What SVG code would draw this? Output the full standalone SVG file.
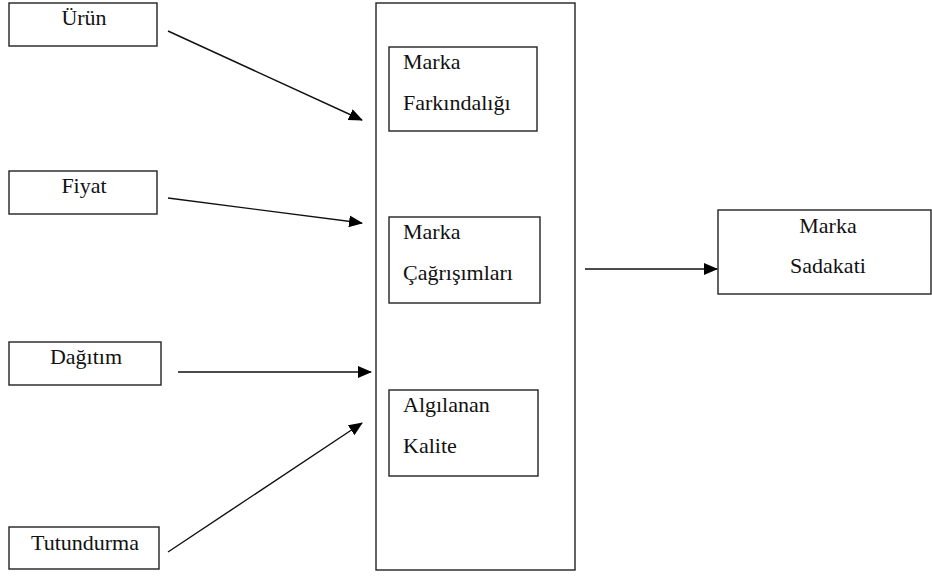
<svg xmlns="http://www.w3.org/2000/svg" width="932" height="576" viewBox="0 0 932 576">
<defs>
<marker id="ah" markerUnits="userSpaceOnUse" markerWidth="14" markerHeight="12" viewBox="0 0 14 12" refX="13" refY="6" orient="auto">
<path d="M0,0 L14,6 L0,12 Z" fill="#000"/>
</marker>
</defs>
<rect width="932" height="576" fill="#fff"/>
<g id="urun"><rect x="9" y="3" width="148" height="43" fill="#fff" stroke="#222" stroke-width="1.4"/><text style="font-family:'Liberation Serif',serif;font-size:22px" fill="#111" text-anchor="middle" x="84" y="25">&#220;r&#252;n</text></g>
<g id="fiyat"><rect x="9" y="171" width="148" height="43" fill="#fff" stroke="#222" stroke-width="1.4"/><text style="font-family:'Liberation Serif',serif;font-size:22px" fill="#111" text-anchor="middle" x="84" y="193">Fiyat</text></g>
<g id="dagitim"><rect x="9" y="342" width="152" height="43" fill="#fff" stroke="#222" stroke-width="1.4"/><text style="font-family:'Liberation Serif',serif;font-size:22px" fill="#111" text-anchor="middle" x="86" y="364">Da&#287;&#305;t&#305;m</text></g>
<g id="tutundurma"><rect x="9" y="527" width="150" height="42" fill="#fff" stroke="#222" stroke-width="1.4"/><text style="font-family:'Liberation Serif',serif;font-size:22px" fill="#111" text-anchor="middle" x="85" y="550">Tutundurma</text></g>
<g id="marka-degeri"><rect x="376" y="3" width="199" height="567" fill="#fff" stroke="#222" stroke-width="1.4"/></g>
<g id="farkindalik"><rect x="389" y="47" width="148" height="84" fill="#fff" stroke="#222" stroke-width="1.4"/><text style="font-family:'Liberation Serif',serif;font-size:22px" fill="#111" x="403" y="69">Marka</text><text style="font-family:'Liberation Serif',serif;font-size:22px" fill="#111" x="403" y="110">Fark&#305;ndal&#305;&#287;&#305;</text></g>
<g id="cagrisimlar"><rect x="389" y="217" width="151" height="86" fill="#fff" stroke="#222" stroke-width="1.4"/><text style="font-family:'Liberation Serif',serif;font-size:22px" fill="#111" x="403" y="239">Marka</text><text style="font-family:'Liberation Serif',serif;font-size:22px" fill="#111" x="403" y="280">&#199;a&#287;r&#305;&#351;&#305;mlar&#305;</text></g>
<g id="kalite"><rect x="389" y="390" width="149" height="86" fill="#fff" stroke="#222" stroke-width="1.4"/><text style="font-family:'Liberation Serif',serif;font-size:22px" fill="#111" x="403" y="412">Alg&#305;lanan</text><text style="font-family:'Liberation Serif',serif;font-size:22px" fill="#111" x="403" y="453">Kalite</text></g>
<g id="sadakat"><rect x="718" y="210" width="213" height="84" fill="#fff" stroke="#222" stroke-width="1.4"/><text style="font-family:'Liberation Serif',serif;font-size:22px" fill="#111" text-anchor="middle" x="828" y="233">Marka</text><text style="font-family:'Liberation Serif',serif;font-size:22px" fill="#111" text-anchor="middle" x="828" y="273">Sadakati</text></g>
<g id="connectors" stroke="#111" stroke-width="1.4" fill="none">
<line x1="168" y1="31" x2="362" y2="120" marker-end="url(#ah)"/>
<line x1="168" y1="198" x2="362" y2="223" marker-end="url(#ah)"/>
<line x1="178" y1="372" x2="371" y2="372" marker-end="url(#ah)"/>
<line x1="168" y1="552" x2="362" y2="423" marker-end="url(#ah)"/>
<line x1="585" y1="269" x2="717" y2="269" marker-end="url(#ah)"/>
</g>
</svg>
